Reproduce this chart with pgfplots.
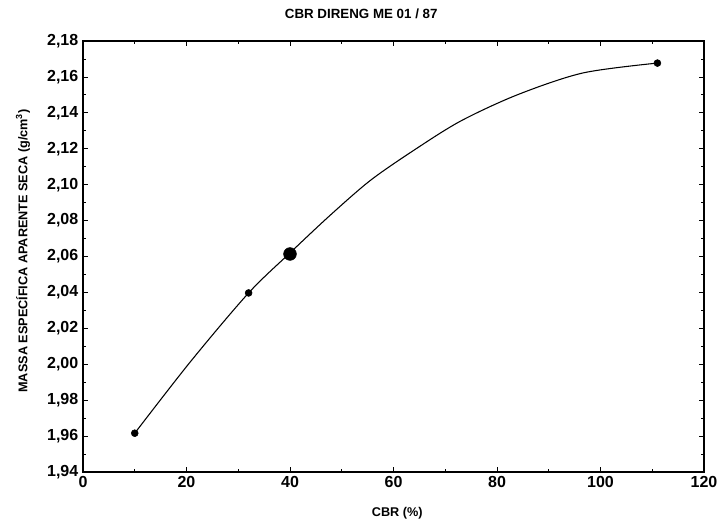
\documentclass[border=0pt]{standalone}
\usepackage{pgfplots}
\pgfplotsset{compat=1.18}
\usepackage{fontspec}
\setmainfont{Liberation Sans}

% curve
\pgfplotstableread{
x y
10 1.9616
20.7 2.0012
32 2.0397
40 2.0620
47.7 2.0828
55.5 2.1023
63.8 2.1189
72.9 2.1353
83.9 2.1500
96.6 2.1622
111 2.1677
}\curve

\begin{document}
\begin{tikzpicture}
\begin{axis}[
  name=ax,
  scale only axis,
  width=465.75pt, height=323.25pt,
  xmin=0, xmax=120, ymin=1.94, ymax=2.18,
  xtick={0,20,...,120},
  ytick={1.94,1.96,...,2.181},
  minor tick num=1,
  tick align=inside,
  major tick length=4pt, minor tick length=2.2pt,
  axis line style={line width=0.9pt},
  every tick/.style={black, line width=0.6pt},
  /pgf/number format/assume math mode=true,
  yticklabel style={/pgf/number format/.cd, fixed, fixed zerofill, precision=2, use comma},
  ticklabel style={font=\fontsize{12}{13}\selectfont\bfseries},
  title={CBR DIRENG ME 01 / 87},
  title style={at={(axis description cs:0.448,1.044)}, anchor=center,
    font=\fontsize{10}{12}\selectfont\bfseries},
  xlabel={CBR (\%)},
  xlabel style={at={(axis description cs:0.506,-0.0951)}, anchor=center,
    font=\fontsize{9.5}{11}\selectfont\bfseries},
  ylabel={MASSA ESPECÍFICA APARENTE SECA (g/cm\textsuperscript{3})},
  ylabel style={at={(axis description cs:-0.0966,0.513)}, anchor=center,
    font=\fontsize{9.5}{11}\selectfont\bfseries},
]
\addplot[black, line width=0.8pt, smooth, tension=0.5] table[x=x, y=y] {\curve};
\addplot[only marks, mark=*, mark size=2.6pt, black] coordinates {(10,1.9616) (32,2.0397) (111,2.1677)};
\addplot[only marks, mark=*, mark size=4.8pt, black] coordinates {(40,2.0614)};
\end{axis}
\pgfresetboundingbox
\path ([shift={(-62.25pt,-43.5pt)}]ax.south west) rectangle ([shift={(9.75pt,30.75pt)}]ax.north east);
\end{tikzpicture}
\end{document}
